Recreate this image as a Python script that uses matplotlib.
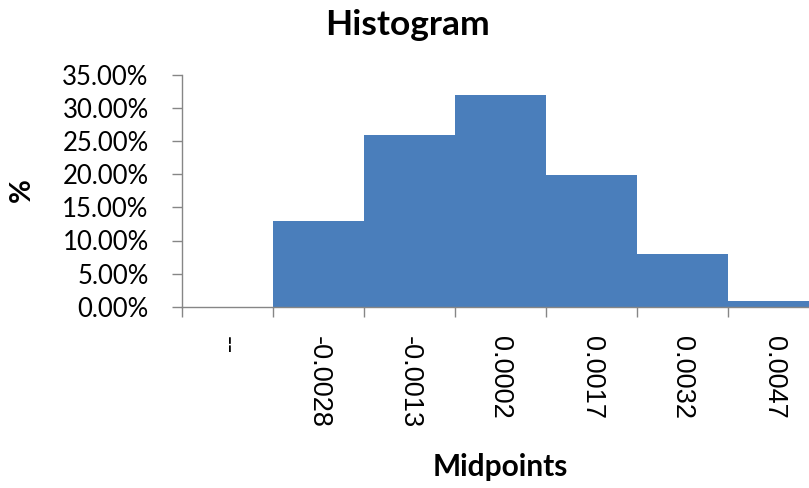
import matplotlib
matplotlib.use("Agg")
import matplotlib.pyplot as plt
import numpy as np
from matplotlib.ticker import FixedLocator, NullFormatter, FixedFormatter

# Data
categories = ["--", "-0.0028", "-0.0013", "0.0002", "0.0017", "0.0032", "0.0047"]
percent = [0.0, 13.0, 25.9, 32.0, 19.9, 8.0, 0.9]
y_ticks = [0, 5, 10, 15, 20, 25, 30, 35]

W, H = 809, 488
fig = plt.figure(figsize=(W / 100, H / 100), dpi=100)
fig.patch.set_facecolor("white")

left, right, bottom_px, top_px = 182, 819, 306.7, 75
ax = fig.add_axes([left / W, 1 - bottom_px / H, (right - left) / W, (bottom_px - top_px) / H])

x = np.arange(len(categories))
ax.bar(x, percent, width=1.0, color="#4A7EBB", linewidth=0, align="center")

ax.set_xlim(-0.5, len(categories) - 0.5)
ax.set_ylim(0, 35)

gray = "#868686"
for s in ["top", "right"]:
    ax.spines[s].set_visible(False)
for s in ["left", "bottom"]:
    ax.spines[s].set_color(gray)
    ax.spines[s].set_linewidth(1.0)

# y axis
ax.set_yticks(y_ticks)
ax.set_yticklabels([f"{v:.2f}%" for v in y_ticks])
ax.tick_params(axis="y", direction="out", length=7, width=1, color=gray, pad=17,
               labelsize=18.5)
for lab in ax.get_yticklabels():
    lab.set_fontfamily("Lato")

# x axis: major ticks at bin edges, labels at centres
ax.xaxis.set_major_locator(FixedLocator(np.arange(-0.5, len(categories), 1.0)))
ax.xaxis.set_major_formatter(NullFormatter())
ax.xaxis.set_minor_locator(FixedLocator(x))
ax.xaxis.set_minor_formatter(FixedFormatter(categories))
ax.tick_params(axis="x", which="major", direction="out", length=7, width=1, color=gray)
ax.tick_params(axis="x", which="minor", length=0, pad=21, labelsize=19.5,
               labelrotation=-90)
for lab in ax.get_xticklabels(minor=True):
    lab.set_fontfamily("Liberation Sans")
    lab.set_va("top")
    lab.set_ha("center")

fig.text(408 / W, 1 - 25 / H, "Histogram", fontsize=25.5, fontweight="bold",
         family="Lato", ha="center", va="center")
fig.text(22 / W, 1 - 190 / H, "%", rotation=90, fontsize=21, fontweight="bold",
         family="Lato", ha="center", va="center")
fig.text(500 / W, 1 - 467 / H, "Midpoints", fontsize=21.5, fontweight="bold",
         family="Lato", ha="center", va="center")

fig.savefig("out.png", dpi=100, facecolor="white")
